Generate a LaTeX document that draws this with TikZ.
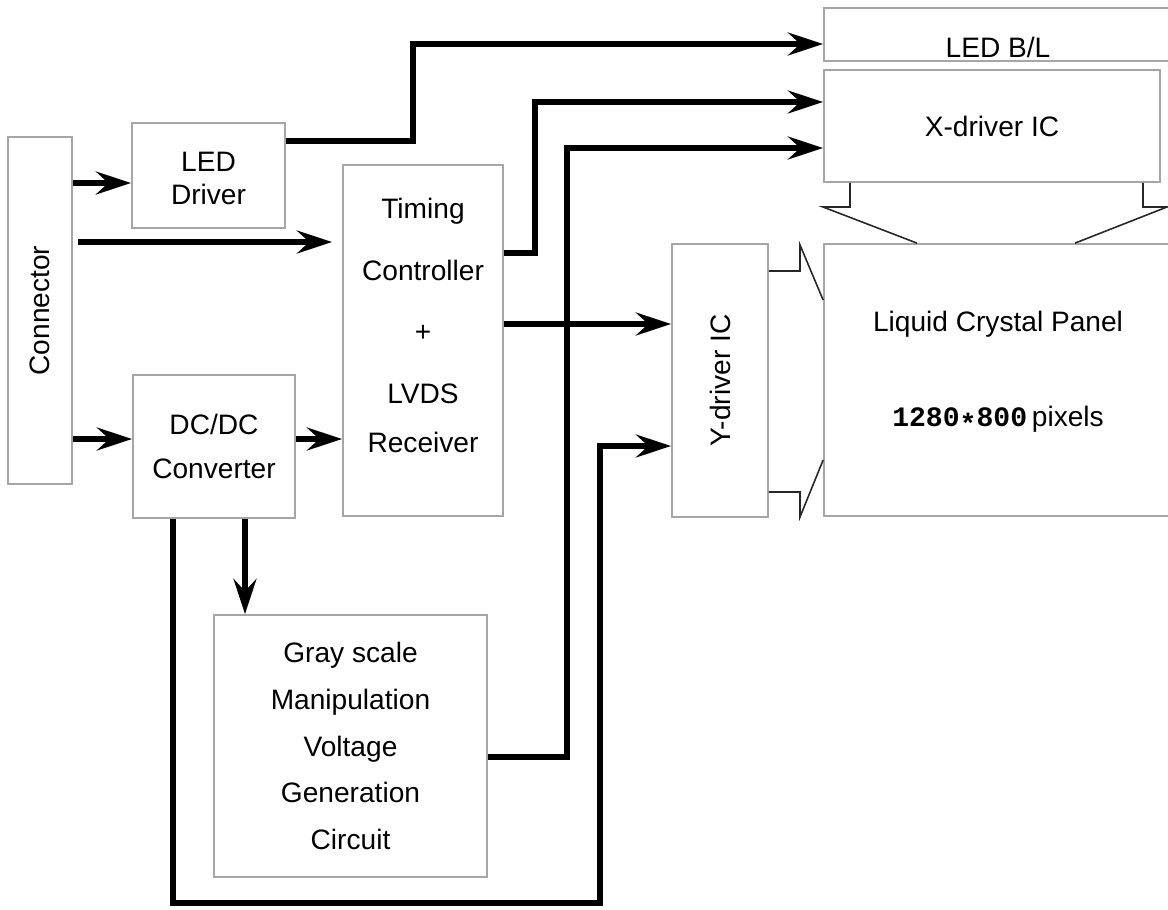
\documentclass[tikz,border=0pt]{standalone}
\usepackage{graphicx}
\usepackage{fontspec}
\setmainfont{Liberation Sans}
\newfontfamily\monofont{Liberation Mono}
\usetikzlibrary{arrows.meta, positioning, calc}

\tikzset{
  blk/.style={draw=gray!70, line width=1pt, inner sep=0pt, align=center},
  sz/.style 2 args={minimum width=#1*0.02cm, minimum height=#2*0.02cm},
  wire/.style={line width=3.3pt, -{Stealth[length=20pt, width=13pt, inset=7pt]}},
  link/.style={draw=black!85, line width=0.9pt},
}

\begin{document}
\begin{tikzpicture}[x=0.02cm, y=-0.02cm, font=\fontsize{16}{19}\selectfont]
    \useasboundingbox (0,0) rectangle (1168,909);

    % Blocks
    \node[blk, sz={64}{347}] (conn) at (40,310.5) {\rotatebox{90}{Connector}};
    \node[blk, sz={153}{105}, text height=33pt, text depth=0pt] (leddrv) at (208.5,175.5) {LED\\Driver};
    \node[blk, sz={160}{351}, text depth=17pt, font=\fontsize{16}{35}\selectfont] (tcon) at (423,340.5)
        {Timing\\Controller\\+\\LVDS\\[-7pt]Receiver};
    \node[blk, sz={162}{143}, font=\fontsize{16}{25.5}\selectfont] (dcdc) at (214,446.5)
        {DC/DC\\Converter};
    \node[blk, sz={273}{262}, font=\fontsize{16}{26.7}\selectfont] (gray) at (350.5,746)
        {Gray scale\\Manipulation\\Voltage\\Generation\\Circuit};
    \node[blk, sz={348}{53}] (ledbl) at (998,34.5) {\raisebox{-13pt}[0pt][0pt]{LED B/L}};
    \node[blk, sz={336}{112}] (xdrv) at (992,126) {X-driver IC};
    \node[blk, sz={96}{273}] (ydrv) at (720,380.5) {\rotatebox{90}{Y-driver IC}};
    \node[blk, sz={348}{272}, text depth=13pt, font=\fontsize{16}{54}\selectfont] (lcp) at (998,380)
        {Liquid Crystal Panel\\{\monofont\bfseries 1280\raisebox{-0.25em}{*}800}\,pixels};

    % Signal paths
    \draw[wire] (conn.east |- 0,183) -- (leddrv.west |- 0,183);
    \draw[wire, shorten >=10*0.02cm] ([xshift=5*0.02cm]conn.east |- 0,242) -- (tcon.west |- 0,242);
    \draw[wire] (conn.east |- 0,439) -- (dcdc.west |- 0,439);
    \draw[wire] (dcdc.east |- 0,439) -- (tcon.west |- 0,439);
    \draw[wire] (dcdc.south -| 245,0) -- (gray.north -| 245,0);
    \draw[wire] (leddrv.east |- 0,141) -- (413,141) |- (ledbl.west |- 0,44);
    \draw[wire] (tcon.east |- 0,253) -- (535,253) |- (xdrv.west |- 0,102);
    \draw[wire] (tcon.east |- 0,324) -- (ydrv.west |- 0,324);
    \draw[wire] (gray.east |- 0,757) -- (567,757) |- (xdrv.west |- 0,148);
    \draw[wire] (dcdc.south -| 173,0) -- (173,903) -- (600,903) |- (ydrv.west |- 0,446);

    % Driver outputs into the panel
    \draw[link] (xdrv.south -| 850,0) -- (850,207) -- (823,207) -- (lcp.north -| 917,0);
    \draw[link] (xdrv.south -| 1143,0) -- (1143,207) -- (1167,207) -- (lcp.north -| 1075,0);
    \draw[link] (ydrv.east |- 0,271) -- (800,271) -- (800,245) -- (lcp.west |- 0,300);
    \draw[link] (ydrv.east |- 0,492) -- (800,492) -- (800,517) -- (lcp.west |- 0,460);
\end{tikzpicture}
\end{document}
